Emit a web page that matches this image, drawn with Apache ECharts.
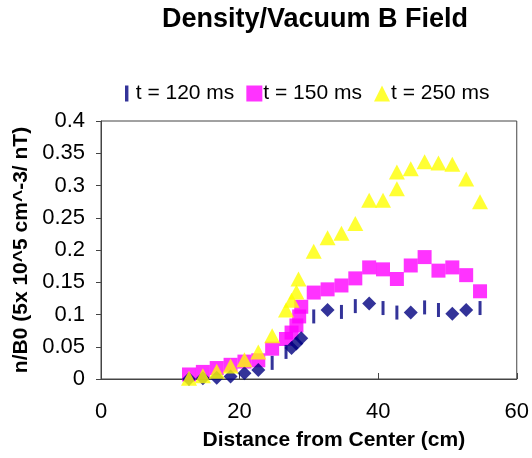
<!DOCTYPE html>
<html><head><meta charset="utf-8">
<script src="https://cdn.jsdelivr.net/npm/echarts@6/dist/echarts.min.js"></script>
<style>html,body{margin:0;padding:0;background:#fff}#c{width:532px;height:458px}</style>
</head><body><div id="c"></div>
<script>
const xTicks = [0, 20, 40, 60];
const yTicks = [0, 0.05, 0.1, 0.15, 0.2, 0.25, 0.3, 0.35, 0.4];
const seriesNames = ['t = 120 ms', 't = 150 ms', 't = 250 ms'];

const dist120 = [12.7,14.7,16.7,18.7,20.7,22.7,24.7,26.7,27.5,28.2,28.9,30.7,32.7,34.7,36.7,38.7,40.7,42.7,44.7,46.7,48.7,50.7,52.7,54.7];
const val120  = [0.0,0.001,0.002,0.004,0.009,0.014,0.025,0.042,0.048,0.055,0.063,0.097,0.107,0.104,0.113,0.117,0.110,0.103,0.103,0.111,0.107,0.101,0.107,0.110];
const diamond120 = [true,true,true,true,true,true,false,false,true,true,true,false,true,false,false,true,false,false,true,false,false,true,true,false];

const dist150 = [12.7,14.7,16.7,18.7,20.7,22.7,24.7,26.7,27.5,28.2,28.6,28.9,30.7,32.7,34.7,36.7,38.7,40.7,42.7,44.7,46.7,48.7,50.7,52.7,54.7];
const val150  = [0.007,0.011,0.017,0.022,0.027,0.029,0.047,0.062,0.072,0.083,0.097,0.112,0.134,0.139,0.145,0.156,0.173,0.170,0.155,0.176,0.189,0.168,0.173,0.161,0.136];

const dist250 = [12.7,14.7,16.7,18.7,20.7,22.7,24.7,26.7,27.5,28.2,28.5,30.7,32.7,34.7,36.7,38.7,40.7,42.7,42.7,44.7,46.7,48.7,50.7,52.7,54.7];
const val250  = [0.001,0.005,0.012,0.020,0.030,0.042,0.067,0.107,0.122,0.135,0.155,0.198,0.219,0.226,0.241,0.277,0.277,0.295,0.321,0.326,0.337,0.335,0.333,0.310,0.275];

const FONT = 'Liberation Sans, Arial, sans-serif';
const BAR = 'path://M0,0L3,0L3,14L0,14Z';

const pts120 = dist120.map((x, i) => diamond120[i]
  ? {value: [x, val120[i]], symbol: 'diamond', symbolSize: [14, 14]}
  : {value: [x, val120[i]]});

const chart = echarts.init(document.getElementById('c'), null, {renderer: 'canvas'});
chart.setOption({
  animation: false,
  backgroundColor: '#fff',
  title: {
    text: 'Density/Vacuum B Field', left: 310, top: 1, textAlign: 'center',
    textStyle: {fontFamily: FONT, fontWeight: 'bold', fontSize: 27, color: '#000'}
  },
  legend: {
    top: 78, left: 120, itemGap: 12, itemWidth: 16, itemHeight: 16,
    textStyle: {fontFamily: FONT, fontSize: 21, color: '#000', padding: [0, 0, 0, -4]},
    data: [
      {name: seriesNames[0], icon: 'path://M0,0L3,0L3,14L0,14Z', itemStyle: {color: '#000080'}},
      {name: seriesNames[1], icon: 'rect'},
      {name: seriesNames[2], icon: 'triangle'}
    ]
  },
  grid: {left: 101, right: 12, top: 121, bottom: 79, show: true, borderColor: '#444', borderWidth: 1},
  xAxis: {
    type: 'value', min: xTicks[0], max: xTicks[xTicks.length - 1], interval: 20,
    name: 'Distance from Center (cm)', nameLocation: 'middle', nameGap: 51,
    nameTextStyle: {fontFamily: FONT, fontWeight: 'bold', fontSize: 21, color: '#000', padding: [0, 0, 0, 50]},
    axisLine: {lineStyle: {color: '#444'}},
    axisTick: {inside: true, length: 6, lineStyle: {color: '#444'}},
    axisLabel: {fontFamily: FONT, fontSize: 22, color: '#000', margin: 22},
    splitLine: {show: false}
  },
  yAxis: {
    type: 'value', min: yTicks[0], max: yTicks[yTicks.length - 1], interval: 0.05,
    name: 'n/B0 (5x 10^5 cm^-3/ nT)', nameLocation: 'middle', nameGap: 61, nameRotate: 90,
    nameTextStyle: {fontFamily: FONT, fontWeight: 'bold', fontSize: 21, color: '#000'},
    axisLine: {show: true, lineStyle: {color: '#444'}},
    axisTick: {show: true, inside: false, length: 5, lineStyle: {color: '#444'}},
    axisLabel: {fontFamily: FONT, fontSize: 22, color: '#000', margin: 16,
      formatter: v => String(Math.round(v * 100) / 100)},
    splitLine: {show: false}
  },
  series: [
    {name: seriesNames[1], type: 'scatter', symbol: 'rect', symbolSize: 14, z: 2,
     itemStyle: {color: '#ff00ff'}, data: dist150.map((x, i) => [x, val150[i]])},
    {name: seriesNames[0], type: 'scatter', symbol: BAR, symbolSize: [3, 14], z: 3,
     itemStyle: {color: '#000080'}, data: pts120},
    {name: seriesNames[2], type: 'scatter', symbol: 'triangle', symbolSize: [16, 15], z: 4,
     itemStyle: {color: '#ffff00'}, data: dist250.map((x, i) => [x, val250[i]])}
  ]
});
</script></body></html>
